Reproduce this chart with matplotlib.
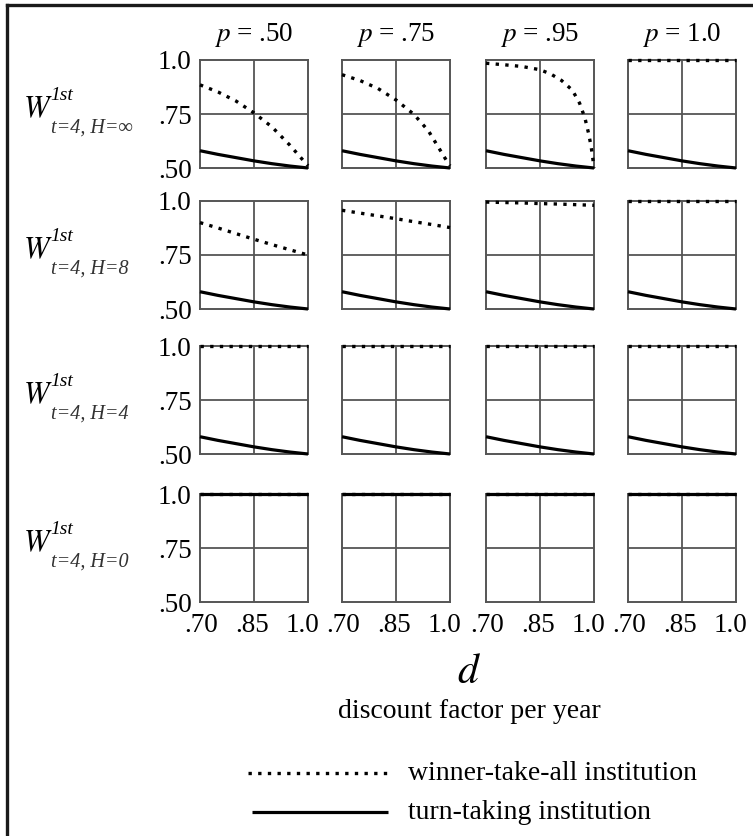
import matplotlib
matplotlib.use("Agg")
import matplotlib.pyplot as plt
from matplotlib.lines import Line2D
from matplotlib.transforms import ScaledTranslation

plt.rcParams['font.family'] = ['Liberation Serif', 'DejaVu Serif']
plt.rcParams['mathtext.fontset'] = 'stix'

# ---------------------------------------------------------------------------
# data (d = discount factor per year)
# ---------------------------------------------------------------------------
p_labels = ['.50', '.75', '.95', '1.0']
h_labels = ['\u221e', '8', '4', '0']

d_std = [0.70, 0.75, 0.80, 0.85, 0.90, 0.95, 1.00]
turn_taking = [0.58, 0.563, 0.548, 0.533, 0.52, 0.509, 0.50]
turn_taking_h0 = [1.0, 1.0, 1.0, 1.0, 1.0, 1.0, 1.0]
wta_flat = [1.0, 1.0, 1.0, 1.0, 1.0, 1.0, 1.0]

# H = infinity
wta_inf_p50 = [0.885, 0.852, 0.810, 0.755, 0.69, 0.605, 0.51]
d_inf_p75 = [0.70, 0.75, 0.80, 0.85, 0.90, 0.94, 0.97, 0.99, 1.00]
wta_inf_p75 = [0.932, 0.905, 0.868, 0.815, 0.748, 0.672, 0.59, 0.535, 0.51]
d_inf_p95 = [0.70, 0.75, 0.80, 0.85, 0.88, 0.91, 0.94, 0.96, 0.975, 0.985, 0.992, 0.997, 1.00]
wta_inf_p95 = [0.985, 0.978, 0.97, 0.955, 0.935, 0.905, 0.86, 0.80, 0.73, 0.66, 0.60, 0.54, 0.50]

# H = 8
wta_8_p50 = [0.90, 0.875, 0.849, 0.823, 0.798, 0.774, 0.75]
wta_8_p75 = [0.957, 0.944, 0.931, 0.918, 0.904, 0.891, 0.877]
wta_8_p95 = [0.995, 0.993, 0.991, 0.988, 0.986, 0.983, 0.98]

# (d, winner-take-all, turn-taking) per panel; row = H, column = p
panels = [
    [(d_std, wta_inf_p50, turn_taking),
     (d_inf_p75, wta_inf_p75, turn_taking),
     (d_inf_p95, wta_inf_p95, turn_taking),
     (d_std, wta_flat, turn_taking)],
    [(d_std, wta_8_p50, turn_taking),
     (d_std, wta_8_p75, turn_taking),
     (d_std, wta_8_p95, turn_taking),
     (d_std, wta_flat, turn_taking)],
    [(d_std, wta_flat, turn_taking)] * 4,
    [(d_std, wta_flat, turn_taking_h0)] * 4,
]

# ---------------------------------------------------------------------------
# layout (pixels)
# ---------------------------------------------------------------------------
W, H = 753, 836
col_left = [200, 342, 486, 628]
row_top = [60, 201, 346, 494]
size = 108

grid_col = '#555555'
dot_style = dict(color='black', lw=2.4, linestyle=(0, (1.0, 1.9)),
                 dash_capstyle='butt')
solid_style = dict(color='black', lw=2.3, solid_capstyle='butt')

fig = plt.figure(figsize=(W / 100, H / 100), dpi=100)


def fx(px):
    return px / W


def fy(py):
    return 1 - py / H


for r in range(4):
    for c in range(4):
        x0, y0 = col_left[c], row_top[r]
        ax = fig.add_axes([fx(x0), fy(y0 + size), size / W, size / H])
        d_wta, wta, tt = panels[r][c]
        ax.plot(d_std, tt, clip_on=False, zorder=3, **solid_style)
        ax.plot(d_wta, wta, clip_on=False, zorder=4, **dot_style)

        ax.set_xlim(0.70, 1.00)
        ax.set_ylim(0.50, 1.00)
        ax.axvline(0.85, color=grid_col, lw=1.3, zorder=1)
        ax.axhline(0.75, color=grid_col, lw=1.3, zorder=1)
        for s in ax.spines.values():
            s.set_color(grid_col)
            s.set_linewidth(1.4)

        ax.set_xticks([0.70, 0.85, 1.00])
        ax.set_yticks([0.50, 0.75, 1.00])
        ax.tick_params(length=0, labelsize=19.5)
        ax.tick_params(axis='x', pad=8)
        ax.tick_params(axis='y', pad=6)
        if r == 3:
            ax.set_xticklabels(['.70', '.85', '1.0'])
            # labels sit slightly inward in the original
            for lbl, dx in zip(ax.get_xticklabels(), [1, -2, -6]):
                lbl.set_transform(lbl.get_transform()
                                  + ScaledTranslation(dx / 100, 0, fig.dpi_scale_trans))
        else:
            ax.set_xticklabels([])
        if c == 0:
            ax.set_yticklabels(['.50', '.75', '1.0'])
        else:
            ax.set_yticklabels([])

        if r == 0:
            ax.set_title(r'$p$ = ' + p_labels[c], fontsize=19.5, pad=14)

    # row label  W^{1st}_{t=4, H=..}
    top = row_top[r]
    fig.text(fx(23), fy(top + 57), r'$W$', fontsize=22, ha='left', va='baseline')
    fig.text(fx(50), fy(top + 40), '1st', fontsize=14, style='italic',
             ha='left', va='baseline')
    fig.text(fx(51), fy(top + 73), 't=4, H=' + h_labels[r], fontsize=14.5,
             style='italic', ha='left', va='baseline', color='#333333')

# axis label
fig.text(fx(469), fy(683), r'$d$', fontsize=30, ha='center', va='baseline')
fig.text(fx(469), fy(718), 'discount factor per year', fontsize=20,
         ha='center', va='baseline')

# legend
fig.add_artist(Line2D([fx(248), fx(388)], [fy(773), fy(773)], **dot_style))
fig.add_artist(Line2D([fx(252), fx(388)], [fy(812), fy(812)], **solid_style))
fig.text(fx(408), fy(780), 'winner-take-all institution', fontsize=20,
         ha='left', va='baseline')
fig.text(fx(408), fy(819), 'turn-taking institution', fontsize=20,
         ha='left', va='baseline')

# frame (left and top edge only, the rest is cropped)
fig.add_artist(Line2D([fx(7), fx(7)], [0, fy(5)], color='#1a1a1a', lw=2.4))
fig.add_artist(Line2D([fx(7), 1], [fy(5), fy(5)], color='#1a1a1a', lw=2.4))

fig.savefig('out.png', dpi=100)
